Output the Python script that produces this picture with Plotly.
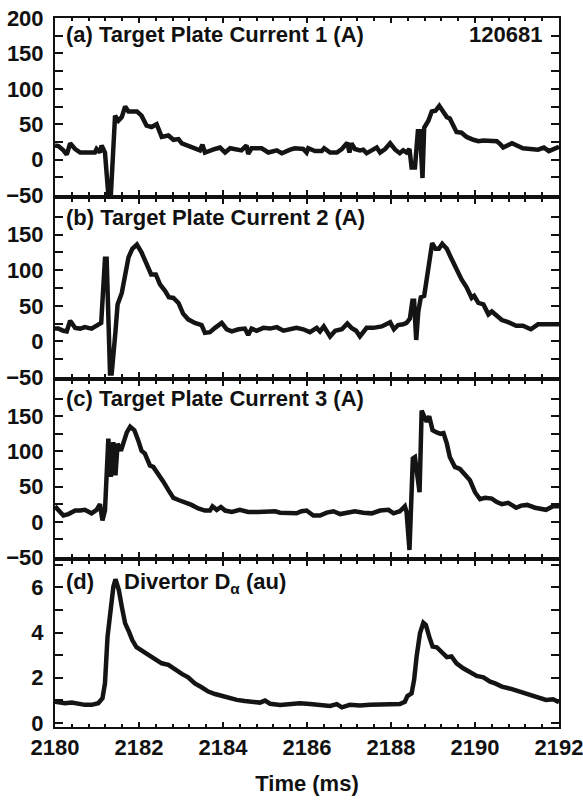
import plotly.graph_objects as go

# ---------------- data ----------------
t_a = [2180.00, 2180.08, 2180.20, 2180.28, 2180.36, 2180.48, 2180.60, 2180.75, 2180.95, 2180.99,
       2181.07, 2181.11, 2181.19, 2181.27, 2181.33, 2181.43, 2181.51, 2181.59, 2181.67, 2181.75,
       2181.95, 2182.06, 2182.18, 2182.30, 2182.42, 2182.54, 2182.70, 2182.82, 2182.94, 2183.02,
       2183.25, 2183.45, 2183.51, 2183.57, 2183.81, 2183.93, 2184.05, 2184.17, 2184.44, 2184.56,
       2184.60, 2184.68, 2184.92, 2185.08, 2185.28, 2185.40, 2185.60, 2185.71, 2185.91, 2185.99,
       2186.03, 2186.19, 2186.35, 2186.41, 2186.55, 2186.71, 2186.83, 2186.90, 2186.96, 2187.01,
       2187.06, 2187.14, 2187.26, 2187.34, 2187.42, 2187.54, 2187.66, 2187.74, 2187.86, 2187.98,
       2188.10, 2188.21, 2188.29, 2188.37, 2188.44, 2188.49, 2188.57, 2188.64, 2188.69, 2188.75,
       2188.79, 2188.89, 2188.97, 2189.06, 2189.15, 2189.24, 2189.33, 2189.40, 2189.50, 2189.56,
       2189.68, 2189.80, 2189.96, 2190.08, 2190.20, 2190.36, 2190.52, 2190.60, 2190.67, 2190.88,
       2191.14, 2191.50, 2191.64, 2191.76, 2191.95, 2192.00]
v_a = [20, 19, 13, 7, 23, 15, 10, 10, 10, 15,
       10, 20, 10, -50, -50, 62, 55, 60, 75, 68,
       68, 62, 48, 46, 50, 32, 34, 28, 29, 23,
       18, 13, 21, 10, 15, 17, 10, 16, 13, 20,
       8, 16, 16, 10, 13, 9, 14, 16, 15, 10,
       16, 12, 12, 16, 10, 10, 15, 20, 24, 10,
       23, 15, 13, 14, 9, 13, 17, 10, 15, 23,
       14, 9, 13, 10, 15, -11, -11, 40, 40, -26,
       45, 55, 68, 69, 76, 68, 60, 58, 46, 39,
       38, 32, 28, 26, 27, 26, 26, 22, 17, 23,
       16, 14, 17, 12, 17, 18]

t_b = [2180.00, 2180.08, 2180.20, 2180.28, 2180.36, 2180.48, 2180.60, 2180.71, 2180.87, 2181.03,
       2181.10, 2181.19, 2181.23, 2181.31, 2181.35, 2181.44, 2181.49, 2181.59, 2181.67, 2181.75,
       2181.84, 2181.95, 2182.06, 2182.18, 2182.29, 2182.40, 2182.50, 2182.62, 2182.71, 2182.82,
       2182.94, 2183.05, 2183.17, 2183.33, 2183.49, 2183.57, 2183.69, 2183.81, 2183.97, 2184.09,
       2184.21, 2184.37, 2184.52, 2184.60, 2184.68, 2184.80, 2184.96, 2185.12, 2185.28, 2185.44,
       2185.64, 2185.75, 2185.91, 2186.07, 2186.23, 2186.31, 2186.40, 2186.55, 2186.67, 2186.83,
       2186.96, 2187.06, 2187.17, 2187.26, 2187.42, 2187.58, 2187.78, 2187.86, 2187.98, 2188.07,
       2188.17, 2188.29, 2188.37, 2188.45, 2188.51, 2188.55, 2188.60, 2188.65, 2188.71, 2188.79,
       2188.85, 2188.93, 2188.98, 2189.06, 2189.14, 2189.22, 2189.33, 2189.44, 2189.56, 2189.68,
       2189.80, 2189.92, 2189.98, 2190.08, 2190.20, 2190.32, 2190.40, 2190.52, 2190.64, 2190.79,
       2190.98, 2191.14, 2191.33, 2191.50, 2191.76, 2192.00]
v_b = [18, 18, 15, 14, 29, 19, 18, 20, 18, 23,
       26, 116, 116, -45, -45, 14, 52, 68, 90, 118,
       130, 136, 125, 109, 94, 94, 80, 71, 62, 61,
       54, 39, 31, 26, 23, 12, 13, 19, 26, 17,
       14, 17, 18, 9, 18, 15, 19, 18, 20, 15,
       17, 19, 17, 13, 19, 14, 21, 7, 15, 17,
       25, 19, 15, 7, 19, 19, 21, 23, 27, 17,
       23, 24, 26, 32, 57, 57, 2, 42, 62, 64,
       90, 127, 138, 130, 130, 137, 130, 116, 101, 87,
       76, 61, 64, 54, 52, 38, 42, 35, 30, 27,
       22, 22, 17, 24, 24, 24]

t_c = [2180.00, 2180.08, 2180.20, 2180.32, 2180.48, 2180.60, 2180.71, 2180.87, 2180.99, 2181.07,
       2181.13, 2181.19, 2181.27, 2181.33, 2181.39, 2181.44, 2181.49, 2181.57, 2181.63, 2181.71,
       2181.79, 2181.89, 2181.98, 2182.06, 2182.14, 2182.26, 2182.34, 2182.46, 2182.58, 2182.70,
       2182.82, 2182.94, 2183.10, 2183.25, 2183.41, 2183.57, 2183.69, 2183.75, 2183.85, 2183.95,
       2184.05, 2184.21, 2184.40, 2184.60, 2184.84, 2185.04, 2185.24, 2185.36, 2185.60, 2185.75,
       2185.87, 2185.99, 2186.15, 2186.31, 2186.47, 2186.63, 2186.79, 2186.94, 2187.14, 2187.34,
       2187.54, 2187.74, 2187.94, 2188.06, 2188.21, 2188.33, 2188.37, 2188.44, 2188.52, 2188.57,
       2188.61, 2188.68, 2188.73, 2188.79, 2188.85, 2188.91, 2188.99, 2189.09, 2189.18, 2189.25,
       2189.33, 2189.40, 2189.52, 2189.64, 2189.76, 2189.88, 2190.00, 2190.12, 2190.24, 2190.40,
       2190.52, 2190.64, 2190.79, 2190.98, 2191.10, 2191.24, 2191.43, 2191.69, 2191.86, 2192.00]
v_c = [22, 16, 9, 11, 16, 16, 17, 12, 17, 25,
       2, 16, 118, 64, 113, 66, 111, 101, 113, 127,
       135, 130, 116, 101, 97, 80, 78, 68, 57, 45,
       34, 31, 28, 24, 19, 16, 16, 22, 17, 21,
       16, 14, 17, 14, 14, 15, 15, 13, 12, 12,
       15, 16, 9, 9, 13, 15, 11, 13, 15, 13,
       12, 16, 17, 12, 15, 22, 14, -40, 90, 92,
       73, 42, 158, 151, 142, 150, 130, 127, 125, 126,
       111, 92, 78, 75, 68, 59, 42, 32, 34, 33,
       28, 25, 27, 20, 23, 24, 20, 17, 22, 22]

t_d = [2180.00, 2180.24, 2180.40, 2180.56, 2180.71, 2180.87, 2181.03, 2181.13, 2181.19, 2181.25,
       2181.33, 2181.39, 2181.44, 2181.52, 2181.59, 2181.67, 2181.76, 2181.84, 2181.94, 2182.06,
       2182.22, 2182.38, 2182.54, 2182.70, 2182.86, 2183.02, 2183.17, 2183.33, 2183.49, 2183.65,
       2183.81, 2183.97, 2184.13, 2184.33, 2184.52, 2184.72, 2184.88, 2185.00, 2185.12, 2185.36,
       2185.60, 2185.83, 2186.07, 2186.31, 2186.55, 2186.71, 2186.83, 2187.02, 2187.26, 2187.50,
       2187.74, 2187.98, 2188.21, 2188.33, 2188.39, 2188.49, 2188.55, 2188.61, 2188.69, 2188.77,
       2188.83, 2188.91, 2188.99, 2189.09, 2189.21, 2189.33, 2189.44, 2189.56, 2189.72, 2189.88,
       2190.04, 2190.20, 2190.36, 2190.48, 2190.64, 2190.88, 2191.14, 2191.43, 2191.69, 2191.86,
       2192.00]
v_d = [0.94, 0.87, 0.90, 0.84, 0.80, 0.80, 0.87, 1.09, 1.75, 3.80,
       5.30, 6.03, 6.36, 5.88, 5.15, 4.41, 4.04, 3.67, 3.35, 3.20,
       3.00, 2.79, 2.64, 2.57, 2.35, 2.17, 2.02, 1.75, 1.58, 1.39,
       1.28, 1.19, 1.09, 1.02, 0.97, 0.94, 0.90, 0.99, 0.85, 0.80,
       0.84, 0.87, 0.84, 0.80, 0.75, 0.83, 0.69, 0.80, 0.77, 0.80,
       0.83, 0.84, 0.84, 0.94, 1.19, 1.31, 1.90, 2.94, 3.97, 4.44,
       4.34, 3.82, 3.38, 3.35, 3.16, 2.91, 2.94, 2.64, 2.42, 2.27,
       2.08, 2.02, 1.83, 1.75, 1.61, 1.50, 1.34, 1.17, 1.02, 1.05,
       0.92]

panel_titles = ["(a) Target Plate Current 1 (A)", "(b) Target Plate Current 2 (A)",
                "(c) Target Plate Current 3 (A)"]
shot_label = "120681"
d_label_a = "(d)"
d_label_b = "Divertor D<sub>α</sub> (au)"
x_title = "Time (ms)"
x_ticks = [2180, 2182, 2184, 2186, 2188, 2190, 2192]
y_ticks_a = [-50, 0, 50, 100, 150, 200]
y_ticks_bc = [-50, 0, 50, 100, 150]
y_ticks_d = [0, 2, 4, 6]

# ---------------- figure ----------------
FONT = "Liberation Sans, Arial, sans-serif"
W, H = 583, 802
ML, MR, MT, MB = 55, 24, 18, 75
ph = H - MT - MB


def pdom(top_px, bot_px):
    return [(H - MB - bot_px) / ph, (H - MB - top_px) / ph]


doms = [pdom(18, 195), pdom(199, 377), pdom(381, 557), pdom(561, 727)]
series = [(t_a, v_a), (t_b, v_b), (t_c, v_c), (t_d, v_d)]

fig = go.Figure()
for i, (t, v) in enumerate(series):
    sfx = "" if i == 0 else str(i + 1)
    fig.add_trace(go.Scatter(x=t, y=v, mode="lines", xaxis="x" + sfx, yaxis="y" + sfx,
                             line=dict(color="#141414", width=4.5), showlegend=False,
                             hoverinfo="skip"))

tickfont = dict(family=FONT, size=22, color="#111", weight="bold")
layout = dict(width=W, height=H, margin=dict(l=ML, r=MR, t=MT, b=MB, autoexpand=False),
              paper_bgcolor="white", plot_bgcolor="white", showlegend=False)

for i in range(4):
    sfx = "" if i == 0 else str(i + 1)
    xa = dict(domain=[0, 1], range=[2180, 2192], anchor="y" + sfx, automargin=False,
              showline=True, linecolor="#111", linewidth=2, mirror="allticks",
              ticks="inside", ticklen=5, tickwidth=2, tickcolor="#111",
              tickvals=x_ticks, showgrid=False, zeroline=False, ticklabeloverflow="allow",
              minor=dict(dtick=0.4, tick0=2180, ticks="inside", ticklen=3,
                         tickwidth=1.5, tickcolor="#111", showgrid=False),
              showticklabels=(i == 3), tickfont=tickfont)
    if i == 3:
        xa["title"] = dict(text=x_title, font=dict(family=FONT, size=22, color="#111",
                                                   weight="bold"), standoff=16)
    else:
        xa["matches"] = "x4"
    if i == 3:
        yr, yt, md = [-0.18, 7.17], y_ticks_d, 1
    else:
        yr, yt, md = [-50, 200], (y_ticks_a if i == 0 else y_ticks_bc), 25
    ya = dict(domain=doms[i], range=yr, anchor="x" + sfx, automargin=False,
              showline=True, linecolor="#111", linewidth=2, mirror="allticks",
              ticks="inside", ticklen=8, tickwidth=2, tickcolor="#111",
              tickvals=yt, showgrid=False, zeroline=False, ticklabelstandoff=5,
              ticklabeloverflow="allow",
              minor=dict(dtick=md, tick0=0, ticks="inside", ticklen=8,
                         tickwidth=2, tickcolor="#111", showgrid=False),
              tickfont=tickfont)
    layout["xaxis" + sfx] = xa
    layout["yaxis" + sfx] = ya

fig.update_layout(**layout)

afont = dict(family=FONT, size=22, color="#111", weight="bold")


def ypx(py):
    return (H - MB - py) / ph


def xpx(px):
    return (px - ML) / (W - ML - MR)


ann = []
for title, py in zip(panel_titles, [35, 217, 398]):
    ann.append(dict(text=title, x=xpx(64), y=ypx(py), xref="paper", yref="paper",
                    xanchor="left", yanchor="middle", showarrow=False, font=afont))
ann.append(dict(text=shot_label, x=xpx(544), y=ypx(35), xref="paper", yref="paper",
                xanchor="right", yanchor="middle", showarrow=False, font=afont))
ann.append(dict(text=d_label_a, x=xpx(64), y=ypx(581), xref="paper", yref="paper",
                xanchor="left", yanchor="middle", showarrow=False, font=afont))
ann.append(dict(text=d_label_b, x=xpx(122), y=ypx(583), xref="paper", yref="paper",
                xanchor="left", yanchor="middle", showarrow=False, font=afont))
fig.update_layout(annotations=ann)

fig.write_html("out.html", config={"displayModeBar": False},
               post_script="document.body.style.margin='0';document.body.style.overflow='hidden';")
